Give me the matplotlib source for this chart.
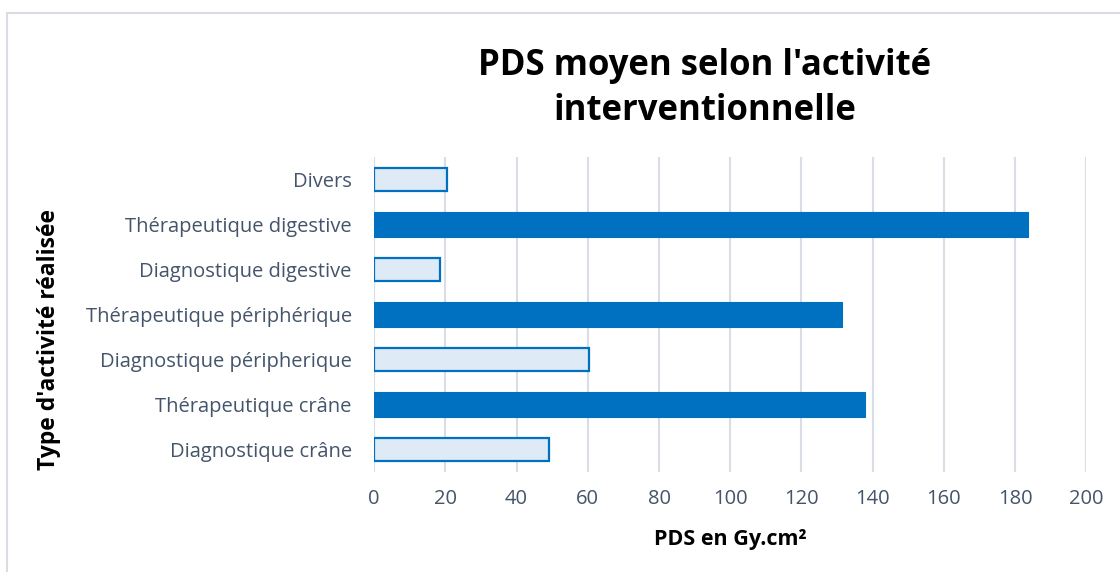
import matplotlib
matplotlib.use("Agg")
import matplotlib.pyplot as plt
from matplotlib.patches import Rectangle

# categories listed bottom to top
categories = [
    "Diagnostique crâne",
    "Thérapeutique crâne",
    "Diagnostique péripherique",
    "Thérapeutique périphérique",
    "Diagnostique digestive",
    "Thérapeutique digestive",
    "Divers",
]
pds_values = [49, 137.8, 60.4, 131.5, 18.5, 183.7, 20.5]
is_therapeutic = [False, True, False, True, False, True, False]
x_ticks = [0, 20, 40, 60, 80, 100, 120, 140, 160, 180, 200]

plt.rcParams['font.family'] = ['Open Sans', 'DejaVu Sans']

dark_blue = '#0070C0'
light_fill = '#DEEAF6'
label_grey = '#44546A'
grid_grey = '#D9DDE6'

fig = plt.figure(figsize=(11.2, 5.72), dpi=100)
ax = fig.add_axes([0.334, 0.175, 0.636, 0.5505])

# outer chart border
fig.patches.append(Rectangle((7 / 1120, -0.05), 1.1, 1 - 13 / 572 + 0.05,
                             transform=fig.transFigure, fill=False,
                             edgecolor='#D9DCE3', linewidth=1.5))

for i, (val, thera) in enumerate(zip(pds_values, is_therapeutic)):
    if thera:
        ax.barh(i, val, height=0.55, color=dark_blue, edgecolor=dark_blue,
                linewidth=0.8, zorder=3)
    else:
        ax.barh(i, val, height=0.5, color=light_fill, edgecolor=dark_blue,
                linewidth=1.6, zorder=3)

ax.set_xlim(0, 200)
ax.set_ylim(-0.5, len(categories) - 0.5)
ax.set_xticks(x_ticks)
ax.set_yticks(range(len(categories)))
ax.set_yticklabels(categories)
ax.tick_params(axis='both', length=0, labelsize=14.5, labelcolor=label_grey)
ax.tick_params(axis='x', pad=12)
ax.tick_params(axis='y', pad=16)

ax.grid(axis='x', color=grid_grey, linewidth=1.5, zorder=0)
for spine in ax.spines.values():
    spine.set_visible(False)

ax.set_xlabel("PDS en Gy.cm²", fontsize=15.5, fontweight='bold', labelpad=15)
ax.set_ylabel("Type d'activité réalisée", fontsize=16.5, fontweight='bold')
ax.yaxis.set_label_coords(-0.44, 0.42)

fig.text(0.629, 0.845, "PDS moyen selon l'activité\ninterventionnelle",
         ha='center', va='center', fontsize=25, fontweight='bold',
         linespacing=1.32)

fig.savefig("out.png", dpi=100)
